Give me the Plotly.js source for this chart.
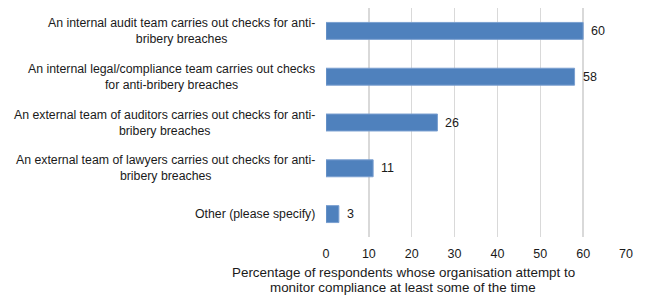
<!DOCTYPE html>
<html>
<head>
<meta charset="utf-8">
<script src="https://cdn.plot.ly/plotly-3.0.1.min.js"></script>
<style>html,body{margin:0;padding:0;background:#fff;}#chart{width:646px;height:295px;}</style>
</head>
<body>
<div id="chart"></div>
<script>
const categories = [
  "An internal audit team carries out checks for anti-<br>bribery breaches",
  "An internal legal/compliance team carries out checks<br>for anti-bribery breaches",
  "An external team of auditors carries out checks for anti-<br>bribery breaches",
  "An external team of lawyers carries out checks for anti-<br>bribery breaches",
  "Other (please specify)"
];
const values = [60, 58, 26, 11, 3];
const xTicks = [0, 10, 20, 30, 40, 50, 60, 70];
const xTitleLines = [
  "Percentage of respondents whose organisation attempt to",
  "monitor compliance at least some of the time"
];

const font = "Liberation Sans, Arial, Helvetica, sans-serif";
const ids = categories.map((c, i) => "c" + i);

const trace = {
  type: "bar",
  orientation: "h",
  x: values,
  y: ids,
  marker: {color: "#4f81bd", line: {color: "#7a9fd0", width: 1}},
  hoverinfo: "none"
};

const annotations = [];
categories.forEach((c, i) => {
  annotations.push({
    text: c, x: 0, xref: "paper", xanchor: "right", xshift: -9,
    y: ids[i], yref: "y", yanchor: "middle", align: "center", showarrow: false,
    font: {family: font, size: 12.3, color: "#1a1a1a"}
  });
  annotations.push({
    text: String(values[i]), x: values[i], xref: "x", xanchor: "left", xshift: 6,
    y: ids[i], yref: "y", yanchor: "middle", showarrow: false,
    font: {family: font, size: 12.5, color: "#1a1a1a"}
  });
});
xTitleLines.forEach((t, i) => {
  annotations.push({
    text: t, x: 0.257, xref: "paper", xanchor: "center",
    y: 0, yref: "paper", yanchor: "middle", yshift: -35 - 15 * i, showarrow: false,
    font: {family: font, size: 13.4, color: "#1a1a1a"}
  });
});

const layout = {
  width: 646, height: 295,
  margin: {l: 326, r: 20, t: 8, b: 58},
  paper_bgcolor: "#fff", plot_bgcolor: "#fff",
  bargap: 0.63,
  showlegend: false,
  font: {family: font, size: 12, color: "#1a1a1a"},
  xaxis: {
    range: [0, 70], tickvals: xTicks, ticktext: xTicks.map(String),
    showgrid: true, gridcolor: "#d9d9d9", gridwidth: 1.5,
    zeroline: false, showline: false, ticks: "", ticklabelstandoff: 7,
    tickfont: {family: font, size: 12.5, color: "#1a1a1a"}
  },
  yaxis: {
    categoryorder: "array", categoryarray: ids, autorange: "reversed",
    showticklabels: false, showgrid: false, zeroline: false, showline: false, ticks: ""
  },
  annotations: annotations
};

Plotly.newPlot("chart", [trace], layout, {displayModeBar: false, staticPlot: true});
</script>
</body>
</html>
